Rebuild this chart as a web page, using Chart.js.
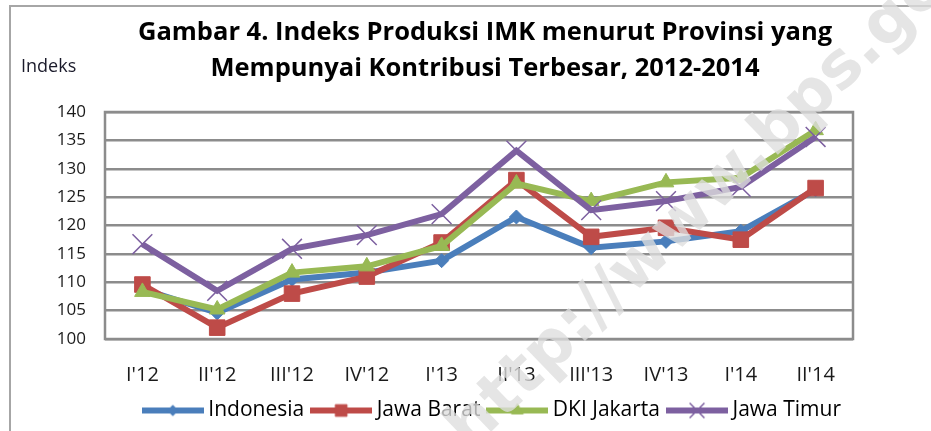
<!DOCTYPE html>
<html>
<head>
<meta charset="utf-8">
<script src="https://cdn.jsdelivr.net/npm/chart.js@4.4.0/dist/chart.umd.min.js"></script>
<style>
  html, body { margin: 0; padding: 0; background: #fff; }
  #wrap { width: 931px; height: 431px; position: relative; }
</style>
</head>
<body>
<div id="wrap"><canvas id="chart" width="931" height="431"></canvas></div>
<script>
// data
const quarters = ["I'12", "II'12", "III'12", "IV'12", "I'13", "II'13", "III'13", "IV'13", "I'14", "II'14"];
const indonesia  = [108.8, 104.6, 110.5, 111.7, 113.8, 121.5, 116.1, 117.2, 119.0, 126.3];
const jawaBarat  = [109.6, 102.0, 108.0, 111.0, 117.0, 128.0, 118.0, 119.6, 117.5, 126.6];
const dkiJakarta = [108.3, 105.2, 111.7, 112.8, 116.4, 127.4, 124.3, 127.6, 128.4, 136.8];
const jawaTimur  = [116.7, 108.5, 115.9, 118.3, 122.0, 133.2, 122.7, 124.3, 126.8, 135.6];
const yMin = 100, yMax = 140, yStep = 5;

const titleLines = ["Gambar 4. Indeks Produksi IMK menurut Provinsi yang",
                    "Mempunyai Kontribusi Terbesar, 2012-2014"];
const yLabel = "Indeks";
const watermark = "http://www.bps.go.id";

const FONT = "'Open Sans', sans-serif";
Chart.defaults.font.family = FONT;
Chart.defaults.color = "#1a1a1a";

const series = [
  { label: "Indonesia",   data: indonesia,  color: "#4a7ebb", style: "rectRot",  radius: 7,  bw: 1,   order: 4 },
  { label: "Jawa Barat",  data: jawaBarat,  color: "#be4b48", style: "rect",     radius: 11, bw: 1,   order: 3 },
  { label: "DKI Jakarta", data: dkiJakarta, color: "#98b954", style: "triangle", radius: 9,  bw: 1,   order: 2 },
  { label: "Jawa Timur",  data: jawaTimur,  color: "#7d60a0", style: "crossRot", radius: 14, bw: 1.5, order: 1 }
];

// legend icon: short thick line with the marker in the middle
function legendIcon(s) {
  const c = document.createElement("canvas");
  c.width = 62; c.height = 24;
  const g = c.getContext("2d");
  g.strokeStyle = s.color; g.fillStyle = s.color;
  g.lineWidth = 6; g.lineCap = "butt";
  g.beginPath(); g.moveTo(0, 12); g.lineTo(62, 12); g.stroke();
  g.lineWidth = s.bw;
  Chart.helpers.drawPoint(g, { pointStyle: s.style, radius: s.radius * 0.75, borderWidth: s.bw, rotation: 0 }, 31, 12);
  return c;
}
const icons = series.map(legendIcon);

const decor = {
  id: "decor",
  beforeDraw(chart) {
    const ctx = chart.ctx;
    ctx.save();
    ctx.strokeStyle = "#a6a6a6"; ctx.lineWidth = 2;
    ctx.strokeRect(10, 6, 1200, 1200);
    ctx.restore();
  },
  beforeDatasetsDraw(chart) {
    const a = chart.chartArea, ctx = chart.ctx;
    ctx.save();
    ctx.strokeStyle = "#8c8c8c"; ctx.lineWidth = 2.5;
    ctx.strokeRect(a.left, a.top, a.right - a.left, a.bottom - a.top);
    ctx.restore();
  },
  afterDraw(chart) {
    const ctx = chart.ctx;
    ctx.save();
    ctx.fillStyle = "#000";
    ctx.textAlign = "center"; ctx.textBaseline = "middle";
    ctx.font = "bold 25.5px " + FONT;
    ctx.fillText(titleLines[0], 485, 33);
    ctx.fillText(titleLines[1], 485, 69);
    ctx.textAlign = "left";
    ctx.font = "18px " + FONT;
    ctx.fillStyle = "#1a1a2a";
    ctx.fillText(yLabel, 21, 67);
    // faint diagonal watermark
    ctx.translate(470, 452);
    ctx.rotate(-44 * Math.PI / 180);
    ctx.font = "bold 64px 'DejaVu Sans', sans-serif";
    ctx.textAlign = "left"; ctx.textBaseline = "alphabetic";
    ctx.fillStyle = "rgba(222,222,222,0.78)";
    ctx.fillText(watermark, 0, 0);
    ctx.restore();
  }
};

new Chart(document.getElementById("chart"), {
  type: "line",
  data: {
    labels: quarters,
    datasets: series.map(s => ({
      label: s.label,
      data: s.data,
      order: s.order,
      borderColor: s.color,
      backgroundColor: s.color,
      borderWidth: 6,
      tension: 0,
      pointStyle: s.style,
      pointRadius: s.radius,
      pointHoverRadius: s.radius,
      pointBorderWidth: s.bw,
      pointBorderColor: s.color,
      pointBackgroundColor: s.color,
      clip: false
    }))
  },
  options: {
    responsive: false,
    animation: false,
    events: [],
    layout: { padding: { left: 0, right: 78, top: 112, bottom: 0 } },
    plugins: {
      title: { display: false },
      tooltip: { enabled: false },
      legend: {
        position: "bottom",
        align: "end",
        labels: {
          usePointStyle: true,
          pointStyleWidth: 50,
          padding: 12,
          color: "#1a1a1a",
          font: { size: 21 },
          generateLabels(chart) {
            return series.map((s, i) => ({
              text: s.label, pointStyle: icons[i], datasetIndex: i,
              fillStyle: s.color, strokeStyle: s.color, lineWidth: 0, hidden: false
            }));
          }
        }
      }
    },
    scales: {
      x: {
        offset: true,
        grid: { display: false, drawTicks: false },
        border: { display: false },
        ticks: { padding: 24, font: { size: 20 }, color: "#1a1a1a", maxRotation: 0, autoSkip: false },
        afterFit(scale) { scale.height = 49; }
      },
      y: {
        min: yMin, max: yMax,
        grid: { color: "#8c8c8c", lineWidth: 2.5, drawTicks: false },
        border: { display: false },
        ticks: { stepSize: yStep, padding: 19, font: { size: 17 }, color: "#1a1a1a" },
        afterFit(scale) { scale.width = 105; }
      }
    }
  },
  plugins: [decor]
});
</script>
</body>
</html>
